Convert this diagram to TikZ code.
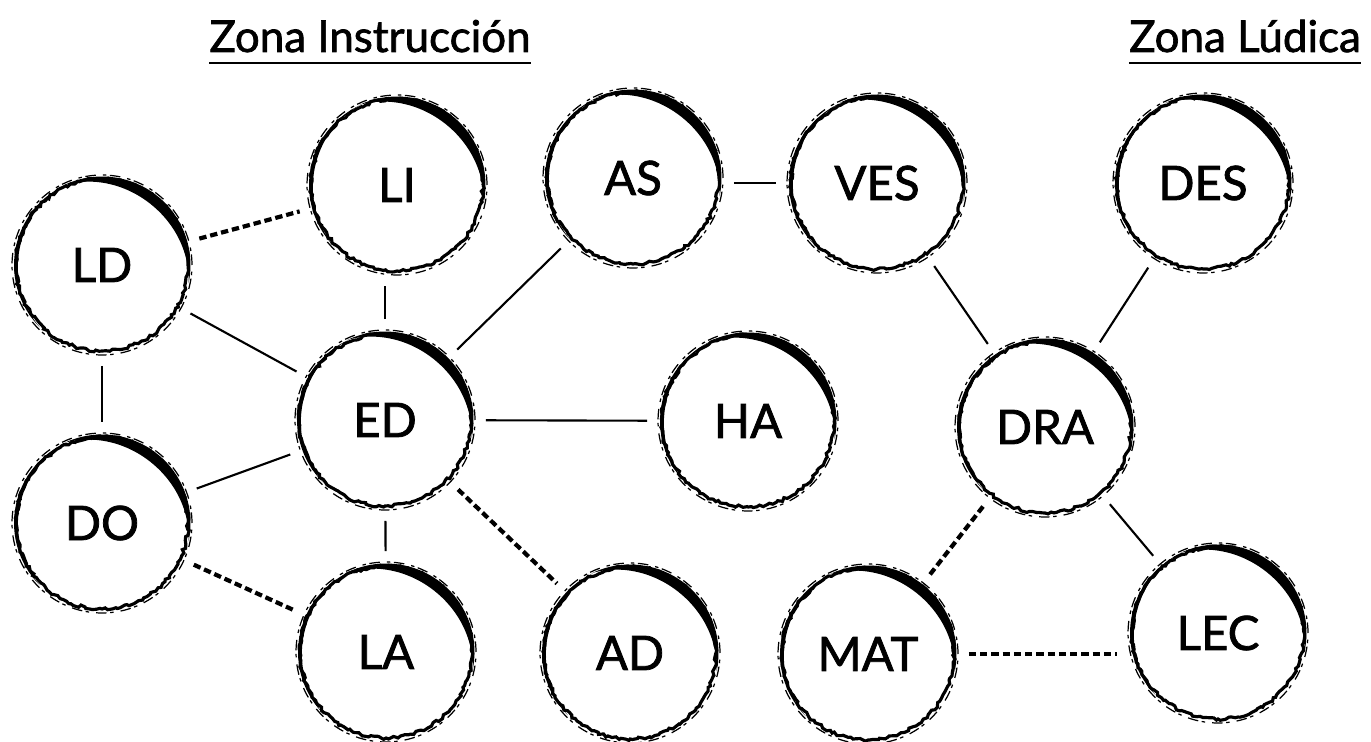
\documentclass[tikz,border=0pt]{standalone}
\usepackage{fontspec}
\setmainfont{Lato}
\newfontfamily\heavyfont[FakeBold=1.6]{Lato}
\usepackage{tikz}
\usetikzlibrary{decorations.pathmorphing}

\begin{document}
\begin{tikzpicture}[
    x=0.02cm, y=-0.02cm,
    zone/.style={
        font=\heavyfont\fontsize{25}{28}\selectfont,
        inner sep=0pt,
        anchor=base
    },
    spot/.style={
        circle,
        minimum size=3.48cm,
        inner sep=0pt,
        font=\heavyfont\fontsize{27}{30}\selectfont
    },
    ring/.style={
        decorate,
        decoration={random steps, segment length=1.8pt, amplitude=0.8pt},
        line width=1.8pt
    },
    scratch/.style={
        line width=0.7pt,
        dash pattern=on 6pt off 2pt on 2pt off 4pt
    },
    link/.style={
        line width=1.2pt,
        shorten >=0.27cm,
        shorten <=0.27cm
    },
    weak/.style={
        link,
        line width=2.4pt,
        dash pattern=on 4.2pt off 2.2pt
    }
]
\useasboundingbox (0,0) rectangle (1371,742);
\pgfmathsetseed{11}

% zone headings
\node[zone] (ins) at (370,52) {Zona Instrucción};
\node[zone] (lud) at (1245,52) {Zona Lúdica};
\draw[line width=1.1pt] ([yshift=-6pt]ins.base west) -- ([yshift=-6pt]ins.base east);
\draw[line width=1.1pt] ([yshift=-6pt]lud.base west) -- ([yshift=-6pt]lud.base east);

% instruction zone
\node[spot] (ld) at (102,265) {LD};
\node[spot] (li) at (397,185) {LI};
\node[spot] (ed) at (385,420) {ED};
\node[spot] (do) at (102,523) {DO};
\node[spot] (la) at (386,652) {LA};
\node[spot] (ad) at (630,653) {AD};
\node[spot] (as) at (633,178) {AS};
\node[spot] (ha) at (748,421) {HA};

% play zone
\node[spot] (ves) at (877,183) {VES};
\node[spot] (des) at (1203,183) {DES};
\node[spot] (dra) at (1045,427) {DRA};
\node[spot] (mat) at (868,654) {MAT};
\node[spot] (lec) at (1218,633) {LEC};

% brushed outlines
\foreach \n in {ld,li,ed,do,la,ad,as,ha,ves,des,dra,mat,lec} {
    \draw[ring] (\n.center) circle[radius=1.72cm];
    \draw[scratch] (\n.center) circle[radius=1.80cm];
    \fill[shift={(\n.center)}]
        plot[smooth, domain=115:-12, samples=30]
            (\x:{1.77cm})
        -- plot[smooth, domain=-12:115, samples=30]
            (\x:{(1.77-0.21*sin((115-\x)/127*180))*1cm})
        -- cycle;
    \fill[shift={(\n.center)}]
        plot[smooth, domain=115:225, samples=20]
            (\x:{1.76cm})
        -- plot[smooth, domain=225:115, samples=20]
            (\x:{(1.76-0.08*sin((\x-115)/110*180))*1cm})
        -- cycle;
}

% connections
\draw[weak] (ld) -- (li);
\draw[link] (ed.north) -- (ed.north |- li.south);
\draw[link] (ld) -- (ed);
\draw[link] (ld) -- (do);
\draw[link] (ed) -- (as);
\draw[link] (ves.west -| as.east) -- (ves.west);
\draw[link] (ed) -- (ha);
\draw[link] (do) -- (ed);
\draw[link] (ed) -- (la);
\draw[weak] (do) -- (la);
\draw[weak] (ed) -- (ad);
\draw[link] (ves) -- (dra);
\draw[link] (des) -- (dra);
\draw[link] (dra) -- (lec);
\draw[weak] (dra) -- (mat);
\draw[weak] (mat.east) -- (mat.east -| lec.west);

\end{tikzpicture}
\end{document}
